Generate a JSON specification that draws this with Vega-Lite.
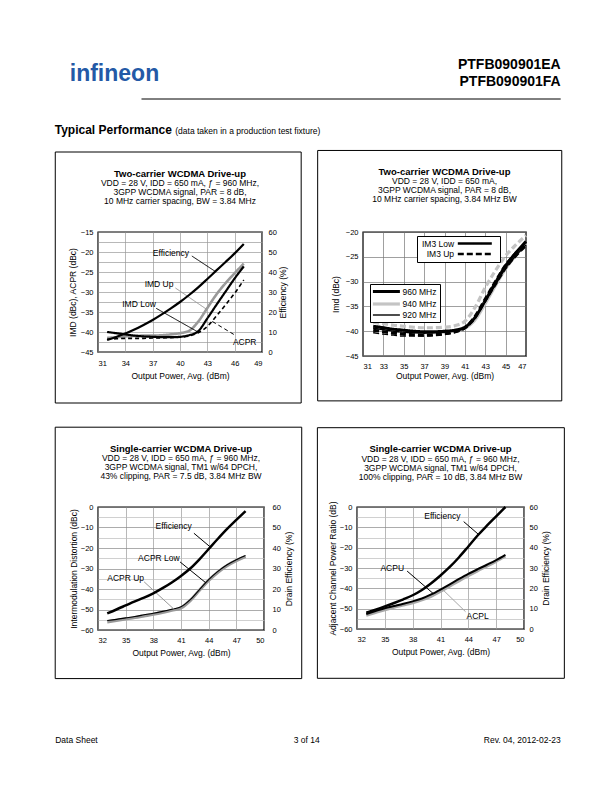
{
"$schema":"https://vega.github.io/schema/vega-lite/v6.json",
"background":"white",
"padding":{"left":54,"top":40,"right":5,"bottom":5},
"config":{
 "font":"Liberation Sans",
 "view":{"stroke":"black","strokeWidth":1.4},
 "axis":{"labelFontSize":7.5,"labelColor":"black","titleFontSize":8.5,"titleFontWeight":"normal","titleColor":"black","domain":false,"ticks":false,"labelPadding":5,"gridColor":"#9a9a9a","gridWidth":0.7,"gridOpacity":1},
 "legend":{"labelFont":"Liberation Sans","labelColor":"black"},
 "title":{"fontSize":9.5,"fontWeight":"bold","color":"black","subtitleFontSize":8.5,"subtitleColor":"black","subtitlePadding":1,"subtitleLineHeight":9,"anchor":"middle"}
},
"datasets":{
"c1":[
{"s":"IMD Up","x":32,"v":-41.5},{"s":"IMD Up","x":33,"v":-41.3},{"s":"IMD Up","x":34,"v":-41.1},{"s":"IMD Up","x":35,"v":-41.0},{"s":"IMD Up","x":36,"v":-40.9},{"s":"IMD Up","x":37,"v":-40.9},{"s":"IMD Up","x":38,"v":-40.8},{"s":"IMD Up","x":39,"v":-40.6},{"s":"IMD Up","x":40,"v":-40.3},{"s":"IMD Up","x":41,"v":-39.7},{"s":"IMD Up","x":42,"v":-37.4},{"s":"IMD Up","x":43,"v":-34.0},{"s":"IMD Up","x":44,"v":-30.6},{"s":"IMD Up","x":45,"v":-27.8},{"s":"IMD Up","x":46,"v":-25.3},{"s":"IMD Up","x":47,"v":-22.9},
{"s":"ACPR","x":32,"v":-41.8},{"s":"ACPR","x":33,"v":-41.7},{"s":"ACPR","x":34,"v":-41.6},{"s":"ACPR","x":35,"v":-41.6},{"s":"ACPR","x":36,"v":-41.6},{"s":"ACPR","x":37,"v":-41.5},{"s":"ACPR","x":38,"v":-41.5},{"s":"ACPR","x":39,"v":-41.4},{"s":"ACPR","x":40,"v":-41.3},{"s":"ACPR","x":41,"v":-41.0},{"s":"ACPR","x":42,"v":-40.2},{"s":"ACPR","x":43,"v":-38.6},{"s":"ACPR","x":44,"v":-36.0},{"s":"ACPR","x":45,"v":-33.2},{"s":"ACPR","x":46,"v":-30.3},{"s":"ACPR","x":47,"v":-27.0},
{"s":"IMD Low","x":32,"v":-40.0},{"s":"IMD Low","x":33,"v":-40.3},{"s":"IMD Low","x":34,"v":-40.6},{"s":"IMD Low","x":35,"v":-40.9},{"s":"IMD Low","x":36,"v":-41.1},{"s":"IMD Low","x":37,"v":-41.2},{"s":"IMD Low","x":38,"v":-41.3},{"s":"IMD Low","x":39,"v":-41.3},{"s":"IMD Low","x":40,"v":-41.2},{"s":"IMD Low","x":41,"v":-40.8},{"s":"IMD Low","x":42,"v":-39.8},{"s":"IMD Low","x":43,"v":-36.6},{"s":"IMD Low","x":44,"v":-33.2},{"s":"IMD Low","x":45,"v":-29.9},{"s":"IMD Low","x":46,"v":-26.6},{"s":"IMD Low","x":47,"v":-23.6},
{"s":"Efficiency","x":32,"v":6.0},{"s":"Efficiency","x":33,"v":7.5},{"s":"Efficiency","x":34,"v":9.2},{"s":"Efficiency","x":35,"v":11.2},{"s":"Efficiency","x":36,"v":13.5},{"s":"Efficiency","x":37,"v":16.0},{"s":"Efficiency","x":38,"v":18.8},{"s":"Efficiency","x":39,"v":21.8},{"s":"Efficiency","x":40,"v":25.0},{"s":"Efficiency","x":41,"v":28.5},{"s":"Efficiency","x":42,"v":32.3},{"s":"Efficiency","x":43,"v":36.5},{"s":"Efficiency","x":44,"v":40.8},{"s":"Efficiency","x":45,"v":45.0},{"s":"Efficiency","x":46,"v":49.3},{"s":"Efficiency","x":47,"v":54.0}
],
"c1a":[
{"label":"Efficiency","s":"Efficiency","tx":39.0,"ty":-20.2,"x1":41.3,"y1":-21.0,"x2":43.9,"y2":-24.9},
{"label":"IMD Up","s":"IMD Up","tx":37.7,"ty":-27.9,"x1":39.5,"y1":-29.0,"x2":42.9,"y2":-34.3},
{"label":"IMD Low","s":"IMD Low","tx":35.5,"ty":-33.1,"x1":37.4,"y1":-34.1,"x2":41.9,"y2":-39.9},
{"label":"ACPR","s":"ACPR","tx":47.1,"ty":-42.6,"x1":45.9,"y1":-40.6,"x2":43.5,"y2":-37.3}
],
"c2":[
{"f":"940 MHz","t":"IM3 Low","x":32,"v":-39.3},{"f":"940 MHz","t":"IM3 Low","x":33,"v":-39.6},{"f":"940 MHz","t":"IM3 Low","x":34,"v":-39.9},{"f":"940 MHz","t":"IM3 Low","x":35,"v":-40.1},{"f":"940 MHz","t":"IM3 Low","x":36,"v":-40.2},{"f":"940 MHz","t":"IM3 Low","x":37,"v":-40.3},{"f":"940 MHz","t":"IM3 Low","x":38,"v":-40.3},{"f":"940 MHz","t":"IM3 Low","x":39,"v":-40.2},{"f":"940 MHz","t":"IM3 Low","x":40,"v":-39.9},{"f":"940 MHz","t":"IM3 Low","x":41,"v":-39.4},{"f":"940 MHz","t":"IM3 Low","x":42,"v":-37.7},{"f":"940 MHz","t":"IM3 Low","x":43,"v":-34.4},{"f":"940 MHz","t":"IM3 Low","x":44,"v":-30.8},{"f":"940 MHz","t":"IM3 Low","x":45,"v":-27.4},{"f":"940 MHz","t":"IM3 Low","x":46,"v":-24.7},{"f":"940 MHz","t":"IM3 Low","x":47,"v":-22.3},
{"f":"940 MHz","t":"IM3 Up","x":32,"v":-38.2},{"f":"940 MHz","t":"IM3 Up","x":33,"v":-38.5},{"f":"940 MHz","t":"IM3 Up","x":34,"v":-38.8},{"f":"940 MHz","t":"IM3 Up","x":35,"v":-39.0},{"f":"940 MHz","t":"IM3 Up","x":36,"v":-39.2},{"f":"940 MHz","t":"IM3 Up","x":37,"v":-39.3},{"f":"940 MHz","t":"IM3 Up","x":38,"v":-39.3},{"f":"940 MHz","t":"IM3 Up","x":39,"v":-39.2},{"f":"940 MHz","t":"IM3 Up","x":40,"v":-38.9},{"f":"940 MHz","t":"IM3 Up","x":41,"v":-38.0},{"f":"940 MHz","t":"IM3 Up","x":42,"v":-35.2},{"f":"940 MHz","t":"IM3 Up","x":43,"v":-31.2},{"f":"940 MHz","t":"IM3 Up","x":44,"v":-27.8},{"f":"940 MHz","t":"IM3 Up","x":45,"v":-24.8},{"f":"940 MHz","t":"IM3 Up","x":46,"v":-22.6},{"f":"940 MHz","t":"IM3 Up","x":47,"v":-20.7},
{"f":"960 MHz","t":"IM3 Low","x":32,"v":-39.0},{"f":"960 MHz","t":"IM3 Low","x":33,"v":-39.3},{"f":"960 MHz","t":"IM3 Low","x":34,"v":-39.6},{"f":"960 MHz","t":"IM3 Low","x":35,"v":-39.8},{"f":"960 MHz","t":"IM3 Low","x":36,"v":-40.0},{"f":"960 MHz","t":"IM3 Low","x":37,"v":-40.1},{"f":"960 MHz","t":"IM3 Low","x":38,"v":-40.1},{"f":"960 MHz","t":"IM3 Low","x":39,"v":-40.0},{"f":"960 MHz","t":"IM3 Low","x":40,"v":-39.8},{"f":"960 MHz","t":"IM3 Low","x":41,"v":-39.2},{"f":"960 MHz","t":"IM3 Low","x":42,"v":-37.2},{"f":"960 MHz","t":"IM3 Low","x":43,"v":-33.8},{"f":"960 MHz","t":"IM3 Low","x":44,"v":-30.2},{"f":"960 MHz","t":"IM3 Low","x":45,"v":-26.8},{"f":"960 MHz","t":"IM3 Low","x":46,"v":-24.2},{"f":"960 MHz","t":"IM3 Low","x":47,"v":-21.9},
{"f":"960 MHz","t":"IM3 Up","x":32,"v":-39.8},{"f":"960 MHz","t":"IM3 Up","x":33,"v":-40.1},{"f":"960 MHz","t":"IM3 Up","x":34,"v":-40.4},{"f":"960 MHz","t":"IM3 Up","x":35,"v":-40.6},{"f":"960 MHz","t":"IM3 Up","x":36,"v":-40.7},{"f":"960 MHz","t":"IM3 Up","x":37,"v":-40.8},{"f":"960 MHz","t":"IM3 Up","x":38,"v":-40.7},{"f":"960 MHz","t":"IM3 Up","x":39,"v":-40.5},{"f":"960 MHz","t":"IM3 Up","x":40,"v":-40.1},{"f":"960 MHz","t":"IM3 Up","x":41,"v":-39.3},{"f":"960 MHz","t":"IM3 Up","x":42,"v":-37.0},{"f":"960 MHz","t":"IM3 Up","x":43,"v":-33.5},{"f":"960 MHz","t":"IM3 Up","x":44,"v":-30.0},{"f":"960 MHz","t":"IM3 Up","x":45,"v":-26.7},{"f":"960 MHz","t":"IM3 Up","x":46,"v":-24.3},{"f":"960 MHz","t":"IM3 Up","x":47,"v":-22.3},
{"f":"920 MHz","t":"IM3 Low","x":32,"v":-39.4},{"f":"920 MHz","t":"IM3 Low","x":33,"v":-39.7},{"f":"920 MHz","t":"IM3 Low","x":34,"v":-40.0},{"f":"920 MHz","t":"IM3 Low","x":35,"v":-40.2},{"f":"920 MHz","t":"IM3 Low","x":36,"v":-40.3},{"f":"920 MHz","t":"IM3 Low","x":37,"v":-40.4},{"f":"920 MHz","t":"IM3 Low","x":38,"v":-40.3},{"f":"920 MHz","t":"IM3 Low","x":39,"v":-40.2},{"f":"920 MHz","t":"IM3 Low","x":40,"v":-39.9},{"f":"920 MHz","t":"IM3 Low","x":41,"v":-39.3},{"f":"920 MHz","t":"IM3 Low","x":42,"v":-37.3},{"f":"920 MHz","t":"IM3 Low","x":43,"v":-34.0},{"f":"920 MHz","t":"IM3 Low","x":44,"v":-30.6},{"f":"920 MHz","t":"IM3 Low","x":45,"v":-27.3},{"f":"920 MHz","t":"IM3 Low","x":46,"v":-24.8},{"f":"920 MHz","t":"IM3 Low","x":47,"v":-22.6},
{"f":"920 MHz","t":"IM3 Up","x":32,"v":-40.3},{"f":"920 MHz","t":"IM3 Up","x":33,"v":-40.6},{"f":"920 MHz","t":"IM3 Up","x":34,"v":-40.8},{"f":"920 MHz","t":"IM3 Up","x":35,"v":-41.0},{"f":"920 MHz","t":"IM3 Up","x":36,"v":-41.0},{"f":"920 MHz","t":"IM3 Up","x":37,"v":-41.0},{"f":"920 MHz","t":"IM3 Up","x":38,"v":-40.9},{"f":"920 MHz","t":"IM3 Up","x":39,"v":-40.7},{"f":"920 MHz","t":"IM3 Up","x":40,"v":-40.3},{"f":"920 MHz","t":"IM3 Up","x":41,"v":-39.5},{"f":"920 MHz","t":"IM3 Up","x":42,"v":-37.5},{"f":"920 MHz","t":"IM3 Up","x":43,"v":-34.1},{"f":"920 MHz","t":"IM3 Up","x":44,"v":-30.8},{"f":"920 MHz","t":"IM3 Up","x":45,"v":-27.5},{"f":"920 MHz","t":"IM3 Up","x":46,"v":-25.0},{"f":"920 MHz","t":"IM3 Up","x":47,"v":-22.9}
],
"c3":[
{"s":"ACPR Up","x":33,"v":-56.0},{"s":"ACPR Up","x":34,"v":-55.3},{"s":"ACPR Up","x":35,"v":-54.6},{"s":"ACPR Up","x":36,"v":-53.9},{"s":"ACPR Up","x":37,"v":-53.1},{"s":"ACPR Up","x":38,"v":-52.3},{"s":"ACPR Up","x":39,"v":-51.4},{"s":"ACPR Up","x":40,"v":-50.4},{"s":"ACPR Up","x":41,"v":-49.2},{"s":"ACPR Up","x":42,"v":-45.6},{"s":"ACPR Up","x":43,"v":-40.6},{"s":"ACPR Up","x":44,"v":-35.8},{"s":"ACPR Up","x":45,"v":-31.8},{"s":"ACPR Up","x":46,"v":-28.6},{"s":"ACPR Up","x":47,"v":-26.1},{"s":"ACPR Up","x":48,"v":-24.1},
{"s":"ACPR Low","x":33,"v":-55.4},{"s":"ACPR Low","x":34,"v":-54.8},{"s":"ACPR Low","x":35,"v":-54.1},{"s":"ACPR Low","x":36,"v":-53.4},{"s":"ACPR Low","x":37,"v":-52.6},{"s":"ACPR Low","x":38,"v":-51.8},{"s":"ACPR Low","x":39,"v":-50.9},{"s":"ACPR Low","x":40,"v":-49.9},{"s":"ACPR Low","x":41,"v":-48.7},{"s":"ACPR Low","x":42,"v":-45.2},{"s":"ACPR Low","x":43,"v":-40.3},{"s":"ACPR Low","x":44,"v":-35.4},{"s":"ACPR Low","x":45,"v":-31.4},{"s":"ACPR Low","x":46,"v":-28.2},{"s":"ACPR Low","x":47,"v":-25.7},{"s":"ACPR Low","x":48,"v":-23.7},
{"s":"Efficiency","x":33,"v":8.1},{"s":"Efficiency","x":34,"v":10.0},{"s":"Efficiency","x":35,"v":12.0},{"s":"Efficiency","x":36,"v":14.0},{"s":"Efficiency","x":37,"v":15.8},{"s":"Efficiency","x":38,"v":17.9},{"s":"Efficiency","x":39,"v":20.4},{"s":"Efficiency","x":40,"v":23.2},{"s":"Efficiency","x":41,"v":26.4},{"s":"Efficiency","x":42,"v":30.0},{"s":"Efficiency","x":43,"v":34.5},{"s":"Efficiency","x":44,"v":39.5},{"s":"Efficiency","x":45,"v":44.5},{"s":"Efficiency","x":46,"v":49.3},{"s":"Efficiency","x":47,"v":53.7},{"s":"Efficiency","x":48,"v":58.0}
],
"c3a":[
{"label":"Efficiency","s":"Efficiency","tx":40.2,"ty":-9.2,"x1":42.4,"y1":-12.8,"x2":44.2,"y2":-19.6},
{"label":"ACPR Low","s":"ACPR Low","tx":38.6,"ty":-25.1,"x1":40.9,"y1":-26.8,"x2":43.7,"y2":-37.0},
{"label":"ACPR Up","s":"ACPR Up","tx":35.0,"ty":-34.8,"x1":37.0,"y1":-36.5,"x2":40.3,"y2":-50.1}
],
"c4":[
{"s":"ACPL","x":33,"v":-53.4},{"s":"ACPL","x":34,"v":-52.0},{"s":"ACPL","x":35,"v":-50.6},{"s":"ACPL","x":36,"v":-49.4},{"s":"ACPL","x":37,"v":-48.3},{"s":"ACPL","x":38,"v":-47.2},{"s":"ACPL","x":39,"v":-45.8},{"s":"ACPL","x":40,"v":-44.0},{"s":"ACPL","x":41,"v":-41.6},{"s":"ACPL","x":42,"v":-39.0},{"s":"ACPL","x":43,"v":-36.4},{"s":"ACPL","x":44,"v":-33.9},{"s":"ACPL","x":45,"v":-31.5},{"s":"ACPL","x":46,"v":-29.2},{"s":"ACPL","x":47,"v":-26.8},{"s":"ACPL","x":48,"v":-24.3},
{"s":"ACPU","x":33,"v":-52.6},{"s":"ACPU","x":34,"v":-51.2},{"s":"ACPU","x":35,"v":-49.8},{"s":"ACPU","x":36,"v":-48.7},{"s":"ACPU","x":37,"v":-47.6},{"s":"ACPU","x":38,"v":-46.4},{"s":"ACPU","x":39,"v":-45.0},{"s":"ACPU","x":40,"v":-43.0},{"s":"ACPU","x":41,"v":-40.6},{"s":"ACPU","x":42,"v":-38.0},{"s":"ACPU","x":43,"v":-35.4},{"s":"ACPU","x":44,"v":-32.9},{"s":"ACPU","x":45,"v":-30.6},{"s":"ACPU","x":46,"v":-28.4},{"s":"ACPU","x":47,"v":-26.1},{"s":"ACPU","x":48,"v":-23.5},
{"s":"Efficiency","x":33,"v":8.0},{"s":"Efficiency","x":34,"v":9.5},{"s":"Efficiency","x":35,"v":11.1},{"s":"Efficiency","x":36,"v":12.8},{"s":"Efficiency","x":37,"v":14.6},{"s":"Efficiency","x":38,"v":16.6},{"s":"Efficiency","x":39,"v":19.2},{"s":"Efficiency","x":40,"v":22.5},{"s":"Efficiency","x":41,"v":26.3},{"s":"Efficiency","x":42,"v":30.5},{"s":"Efficiency","x":43,"v":35.3},{"s":"Efficiency","x":44,"v":40.6},{"s":"Efficiency","x":45,"v":46.0},{"s":"Efficiency","x":46,"v":50.8},{"s":"Efficiency","x":47,"v":55.4},{"s":"Efficiency","x":48,"v":60.0}
],
"c4a":[
{"label":"Efficiency","s":"Efficiency","tx":41.2,"ty":-4.6,"x1":43.5,"y1":-7.2,"x2":45.1,"y2":-13.5},
{"label":"ACPU","s":"ACPU","tx":35.8,"ty":-30.0,"x1":37.4,"y1":-31.5,"x2":40.2,"y2":-42.5},
{"label":"ACPL","s":"ACPL","tx":45.0,"ty":-53.8,"x1":43.7,"y1":-51.5,"x2":41.3,"y2":-40.9}
]
},
"spacing":9,
"resolve":{"scale":{"stroke":"independent","strokeDash":"independent","strokeWidth":"independent"}},
"vconcat":[
{
 "width":462.7,"height":100,
 "view":{"stroke":null},
 "layer":[
  {"data":{"values":[{}]},"mark":{"type":"text","text":"infineon","fontSize":23,"fontWeight":"bold","color":"#2359a6","align":"left","baseline":"middle"},"encoding":{"x":{"datum":-0.061,"type":"quantitative","scale":{"domain":[0,1]},"axis":null},"y":{"datum":0.66,"type":"quantitative","scale":{"domain":[0,1]},"axis":null}}},
  {"data":{"values":[{}]},"mark":{"type":"text","text":"PTFB090901EA","fontSize":14,"fontWeight":"bold","color":"black","align":"right","baseline":"middle"},"encoding":{"x":{"datum":1,"type":"quantitative","scale":{"domain":[0,1]},"axis":null},"y":{"datum":0.75,"type":"quantitative","scale":{"domain":[0,1]},"axis":null}}},
  {"data":{"values":[{}]},"mark":{"type":"text","text":"PTFB090901FA","fontSize":14,"fontWeight":"bold","color":"black","align":"right","baseline":"middle"},"encoding":{"x":{"datum":1,"type":"quantitative","scale":{"domain":[0,1]},"axis":null},"y":{"datum":0.58,"type":"quantitative","scale":{"domain":[0,1]},"axis":null}}},
  {"data":{"values":[{}]},"mark":{"type":"rule","color":"black","strokeWidth":1},"encoding":{"x":{"datum":0.094,"type":"quantitative","scale":{"domain":[0,1]},"axis":null},"x2":{"datum":1},"y":{"datum":0.41,"type":"quantitative","scale":{"domain":[0,1]},"axis":null}}},
  {"data":{"values":[{}]},"mark":{"type":"text","text":"Typical Performance","fontSize":12,"fontWeight":"bold","color":"black","align":"left","baseline":"alphabetic"},"encoding":{"x":{"datum":-0.0936,"type":"quantitative","scale":{"domain":[0,1]},"axis":null},"y":{"datum":0.06,"type":"quantitative","scale":{"domain":[0,1]},"axis":null}}},
  {"data":{"values":[{}]},"mark":{"type":"text","text":"(data taken in a production test fixture)","fontSize":8.5,"color":"black","align":"left","baseline":"alphabetic"},"encoding":{"x":{"datum":0.167,"type":"quantitative","scale":{"domain":[0,1]},"axis":null},"y":{"datum":0.06,"type":"quantitative","scale":{"domain":[0,1]},"axis":null}}}
 ]
},
{"spacing":20,"resolve":{"scale":{"stroke":"independent","strokeDash":"independent","strokeWidth":"independent"}},"vconcat":[
 {"spacing":13,"resolve":{"scale":{"stroke":"independent","strokeDash":"independent","strokeWidth":"independent"}},"hconcat":[
  {
   "width":164,"height":120,
   "title":{"text":"Two-carrier WCDMA Drive-up","subtitle":["VDD = 28 V, IDD = 650 mA, ƒ = 960 MHz,","3GPP WCDMA signal, PAR = 8 dB,","10 MHz carrier spacing, BW = 3.84 MHz"],"offset":-54},
   "layer":[
    {"layer":[
     {"data":{"values":[{}]},"mark":{"type":"rect","fill":"transparent","stroke":"black","strokeWidth":1,"clip":false},"encoding":{
       "x":{"datum":26.31,"type":"quantitative","scale":{"domain":[31,49],"nice":false,"zero":false},"axis":{"title":"Output Power, Avg. (dBm)","values":[31,34,37,40,43,46,49],"grid":true,"labelPadding":7,"titlePadding":5}},"x2":{"datum":53.3},
       "y":{"datum":5.0,"type":"quantitative","scale":{"domain":[-45,-15],"nice":false,"zero":false},"axis":{"title":"IMD (dBc), ACPR (dBc)","values":[-45,-42.5,-40,-37.5,-35,-32.5,-30,-27.5,-25,-22.5,-20,-17.5,-15],"grid":true,"labelExpr":"datum.value % 5 === 0 ? datum.label : ''","titlePadding":3}},"y2":{"datum":-57.75}}},
     {"data":{"name":"c1"},"transform":[{"filter":"datum.s !== 'Efficiency'"}],"mark":{"type":"line","interpolate":"monotone"},
      "encoding":{
       "x":{"field":"x","type":"quantitative","scale":{"domain":[31,49],"nice":false,"zero":false},"axis":{"title":"Output Power, Avg. (dBm)","values":[31,34,37,40,43,46,49],"grid":true,"labelPadding":7,"titlePadding":5}},
       "y":{"field":"v","type":"quantitative","scale":{"domain":[-45,-15],"nice":false,"zero":false},"axis":{"title":"IMD (dBc), ACPR (dBc)","values":[-45,-42.5,-40,-37.5,-35,-32.5,-30,-27.5,-25,-22.5,-20,-17.5,-15],"grid":true,"labelExpr":"datum.value % 5 === 0 ? datum.label : ''","titlePadding":3}},
       "stroke":{"field":"s","type":"nominal","scale":{"domain":["IMD Up","ACPR","IMD Low","Efficiency"],"range":["#999999","black","black","black"]},"legend":null},
       "strokeDash":{"field":"s","type":"nominal","scale":{"domain":["IMD Up","ACPR","IMD Low","Efficiency"],"range":[[1,0],[4,3],[1,0],[1,0]]},"legend":null},
       "strokeWidth":{"field":"s","type":"nominal","scale":{"type":"ordinal","domain":["IMD Up","ACPR","IMD Low","Efficiency"],"range":[2.6,1.6,2.2,2.2]},"legend":null}
      }},
     {"data":{"name":"c1a"},"mark":{"type":"rule","strokeWidth":1},
      "encoding":{
       "x":{"field":"x1","type":"quantitative","scale":{"domain":[31,49],"nice":false,"zero":false},"axis":{"title":"Output Power, Avg. (dBm)","values":[31,34,37,40,43,46,49],"grid":true,"labelPadding":7,"titlePadding":5}},
       "y":{"field":"y1","type":"quantitative","scale":{"domain":[-45,-15],"nice":false,"zero":false},"axis":{"title":"IMD (dBc), ACPR (dBc)","values":[-45,-42.5,-40,-37.5,-35,-32.5,-30,-27.5,-25,-22.5,-20,-17.5,-15],"grid":true,"labelExpr":"datum.value % 5 === 0 ? datum.label : ''","titlePadding":3}},
       "x2":{"field":"x2"},"y2":{"field":"y2"},
       "stroke":{"field":"s","type":"nominal","scale":{"domain":["IMD Up","ACPR","IMD Low","Efficiency"],"range":["#999999","black","black","black"]},"legend":null},
       "strokeDash":{"field":"s","type":"nominal","scale":{"domain":["IMD Up","ACPR","IMD Low","Efficiency"],"range":[[1,0],[4,3],[1,0],[1,0]]},"legend":null}
      }},
     {"data":{"name":"c1a"},"mark":{"type":"text","fontSize":8.5,"color":"black"},
      "encoding":{
       "x":{"field":"tx","type":"quantitative","scale":{"domain":[31,49],"nice":false,"zero":false},"axis":{"title":"Output Power, Avg. (dBm)","values":[31,34,37,40,43,46,49],"grid":true,"labelPadding":7,"titlePadding":5}},
       "y":{"field":"ty","type":"quantitative","scale":{"domain":[-45,-15],"nice":false,"zero":false},"axis":{"title":"IMD (dBc), ACPR (dBc)","values":[-45,-42.5,-40,-37.5,-35,-32.5,-30,-27.5,-25,-22.5,-20,-17.5,-15],"grid":true,"labelExpr":"datum.value % 5 === 0 ? datum.label : ''","titlePadding":3}},
       "text":{"field":"label"}
      }}
    ]},
    {"data":{"name":"c1"},"transform":[{"filter":"datum.s === 'Efficiency'"}],"mark":{"type":"line","interpolate":"monotone","color":"black","strokeWidth":2.2},
     "encoding":{
      "x":{"field":"x","type":"quantitative","scale":{"domain":[31,49],"nice":false,"zero":false},"axis":{"title":"Output Power, Avg. (dBm)","values":[31,34,37,40,43,46,49],"grid":true,"labelPadding":7,"titlePadding":5}},
      "y":{"field":"v","type":"quantitative","scale":{"domain":[0,60],"nice":false,"zero":false},"axis":{"orient":"right","title":"Efficiency (%)","values":[0,10,20,30,40,50,60],"grid":false,"titleAngle":270,"titleBaseline":"top","labelPadding":6,"titlePadding":2}}
     }}
   ],
   "resolve":{"scale":{"y":"independent"}}
  },
  {
   "width":163,"height":124,
   "title":{"text":"Two-carrier WCDMA Drive-up","subtitle":["VDD = 28 V, IDD = 650 mA,","3GPP WCDMA signal, PAR = 8 dB,","10 MHz carrier spacing, 3.84 MHz BW"],"offset":-54},
   "layer":[
    {"data":{"values":[{}]},"mark":{"type":"rect","fill":"transparent","stroke":"black","strokeWidth":1,"clip":false},"encoding":{
      "x":{"datum":26.55,"type":"quantitative","scale":{"domain":[31,47],"nice":false,"zero":false},"axis":{"title":"Output Power, Avg. (dBm)","values":[31,33,35,37,39,41,43,45,47],"grid":true,"labelPadding":6,"titlePadding":2,"gridColor":"#777"}},"x2":{"datum":50.51},
      "y":{"datum":-3.56,"type":"quantitative","scale":{"domain":[-45,-20],"nice":false,"zero":false},"axis":{"title":"Imd (dBc)","values":[-45,-40,-35,-30,-25,-20],"grid":true,"titlePadding":5,"gridColor":"#777"}},"y2":{"datum":-54.05}}},
    {"data":{"name":"c2"},"mark":{"type":"line","interpolate":"monotone"},
     "encoding":{
      "x":{"field":"x","type":"quantitative","scale":{"domain":[31,47],"nice":false,"zero":false},"axis":{"title":"Output Power, Avg. (dBm)","values":[31,33,35,37,39,41,43,45,47],"grid":true,"labelPadding":6,"titlePadding":2,"gridColor":"#777"}},
      "y":{"field":"v","type":"quantitative","scale":{"domain":[-45,-20],"nice":false,"zero":false},"axis":{"title":"Imd (dBc)","values":[-45,-40,-35,-30,-25,-20],"grid":true,"titlePadding":5,"gridColor":"#777"}},
      "stroke":{"field":"f","type":"nominal","scale":{"domain":["960 MHz","940 MHz","920 MHz"],"range":["black","#c4c4c4","black"]},"legend":{"orient":"none","legendX":7,"legendY":52,"title":null,"strokeColor":"black","fillColor":"white","padding":2.5,"labelFontSize":8.5,"symbolType":"M-3.857,0H3.857","symbolSize":49,"symbolOffset":8.4,"labelOffset":10.6,"rowPadding":0,"cornerRadius":0}},
      "strokeWidth":{"field":"f","type":"nominal","scale":{"type":"ordinal","domain":["960 MHz","940 MHz","920 MHz"],"range":[3,3.2,1.4]},"legend":{"orient":"none","legendX":7,"legendY":52,"title":null,"strokeColor":"black","fillColor":"white","padding":2.5,"labelFontSize":8.5,"symbolType":"M-3.857,0H3.857","symbolSize":49,"symbolOffset":8.4,"labelOffset":10.6,"rowPadding":0,"cornerRadius":0}},
      "strokeDash":{"field":"t","type":"nominal","scale":{"domain":["IM3 Low","IM3 Up"],"range":[[1,0],[6,3]]},"legend":{"orient":"none","legendX":54,"legendY":4,"title":null,"strokeColor":"black","fillColor":"white","padding":2.5,"labelFontSize":8.5,"symbolType":"M-4.857,0H4.857","symbolSize":49,"symbolStrokeColor":"black","symbolStrokeWidth":2.4,"symbolOffset":50.3,"labelAlign":"right","labelOffset":-25.7,"rowPadding":0.5,"cornerRadius":0}}
     }}
   ]
  }
 ]},
 {"spacing":13,"resolve":{"scale":{"stroke":"independent","strokeDash":"independent","strokeWidth":"independent"}},"hconcat":[
  {
   "width":166,"height":123,
   "title":{"text":"Single-carrier WCDMA Drive-up","subtitle":["VDD = 28 V, IDD = 650 mA, ƒ = 960 MHz,","3GPP WCDMA signal, TM1 w/64 DPCH,","43% clipping, PAR = 7.5 dB, 3.84 MHz BW"],"offset":-54},
   "layer":[
    {"layer":[
     {"data":{"values":[{}]},"mark":{"type":"rect","fill":"transparent","stroke":"black","strokeWidth":1,"clip":false},"encoding":{
       "x":{"datum":27.36,"type":"quantitative","scale":{"domain":[32,50],"nice":false,"zero":false},"axis":{"title":"Output Power, Avg. (dBm)","values":[32,35,38,41,44,47,50],"grid":true,"labelPadding":6,"titlePadding":5}},"x2":{"datum":54.09},
       "y":{"datum":38.93,"type":"quantitative","scale":{"domain":[-60,0],"nice":false,"zero":false},"axis":{"title":"Intermodulation Distortion (dBc)","values":[-60,-55,-50,-45,-40,-35,-30,-25,-20,-15,-10,-5,0],"grid":true,"labelExpr":"datum.value % 10 === 0 ? datum.label : ''","gridColor":{"condition":{"test":"datum.value % 10 === 0","value":"#888888"},"value":"#bbbbbb"},"titlePadding":2}},"y2":{"datum":-83.7}}},
     {"data":{"name":"c3"},"transform":[{"filter":"datum.s !== 'Efficiency'"}],"mark":{"type":"line","interpolate":"monotone"},
      "encoding":{
       "x":{"field":"x","type":"quantitative","scale":{"domain":[32,50],"nice":false,"zero":false},"axis":{"title":"Output Power, Avg. (dBm)","values":[32,35,38,41,44,47,50],"grid":true,"labelPadding":6,"titlePadding":5}},
       "y":{"field":"v","type":"quantitative","scale":{"domain":[-60,0],"nice":false,"zero":false},"axis":{"title":"Intermodulation Distortion (dBc)","values":[-60,-55,-50,-45,-40,-35,-30,-25,-20,-15,-10,-5,0],"grid":true,"labelExpr":"datum.value % 10 === 0 ? datum.label : ''","gridColor":{"condition":{"test":"datum.value % 10 === 0","value":"#888888"},"value":"#bbbbbb"},"titlePadding":2}},
       "stroke":{"field":"s","type":"nominal","scale":{"domain":["ACPR Up","ACPR Low","Efficiency"],"range":["#999999","black","black"]},"legend":null},
       "strokeWidth":{"field":"s","type":"nominal","scale":{"type":"ordinal","domain":["ACPR Up","ACPR Low","Efficiency"],"range":[3.2,1.1,2.5]},"legend":null}
      }},
     {"data":{"name":"c3a"},"mark":{"type":"rule","strokeWidth":1},
      "encoding":{
       "x":{"field":"x1","type":"quantitative","scale":{"domain":[32,50],"nice":false,"zero":false},"axis":{"title":"Output Power, Avg. (dBm)","values":[32,35,38,41,44,47,50],"grid":true,"labelPadding":6,"titlePadding":5}},
       "y":{"field":"y1","type":"quantitative","scale":{"domain":[-60,0],"nice":false,"zero":false},"axis":{"title":"Intermodulation Distortion (dBc)","values":[-60,-55,-50,-45,-40,-35,-30,-25,-20,-15,-10,-5,0],"grid":true,"labelExpr":"datum.value % 10 === 0 ? datum.label : ''","gridColor":{"condition":{"test":"datum.value % 10 === 0","value":"#888888"},"value":"#bbbbbb"},"titlePadding":2}},
       "x2":{"field":"x2"},"y2":{"field":"y2"},
       "stroke":{"field":"s","type":"nominal","scale":{"domain":["ACPR Up","ACPR Low","Efficiency"],"range":["#999999","black","black"]},"legend":null}
      }},
     {"data":{"name":"c3a"},"mark":{"type":"text","fontSize":8.5,"color":"black"},
      "encoding":{
       "x":{"field":"tx","type":"quantitative","scale":{"domain":[32,50],"nice":false,"zero":false},"axis":{"title":"Output Power, Avg. (dBm)","values":[32,35,38,41,44,47,50],"grid":true,"labelPadding":6,"titlePadding":5}},
       "y":{"field":"ty","type":"quantitative","scale":{"domain":[-60,0],"nice":false,"zero":false},"axis":{"title":"Intermodulation Distortion (dBc)","values":[-60,-55,-50,-45,-40,-35,-30,-25,-20,-15,-10,-5,0],"grid":true,"labelExpr":"datum.value % 10 === 0 ? datum.label : ''","gridColor":{"condition":{"test":"datum.value % 10 === 0","value":"#888888"},"value":"#bbbbbb"},"titlePadding":2}},
       "text":{"field":"label"}
      }}
    ]},
    {"data":{"name":"c3"},"transform":[{"filter":"datum.s === 'Efficiency'"}],"mark":{"type":"line","interpolate":"monotone","color":"black","strokeWidth":2.5},
     "encoding":{
      "x":{"field":"x","type":"quantitative","scale":{"domain":[32,50],"nice":false,"zero":false},"axis":{"title":"Output Power, Avg. (dBm)","values":[32,35,38,41,44,47,50],"grid":true,"labelPadding":6,"titlePadding":5}},
      "y":{"field":"v","type":"quantitative","scale":{"domain":[0,60],"nice":false,"zero":false},"axis":{"orient":"right","title":"Drain Efficiency (%)","values":[0,10,20,30,40,50,60],"grid":false,"titleAngle":270,"titleBaseline":"top","labelPadding":8}}
     }}
   ],
   "resolve":{"scale":{"y":"independent"}}
  },
  {
   "width":167,"height":122,
   "title":{"text":"Single-carrier WCDMA Drive-up","subtitle":["VDD = 28 V, IDD = 650 mA, ƒ = 960 MHz,","3GPP WCDMA signal, TM1 w/64 DPCH,","100% clipping, PAR = 10 dB, 3.84 MHz BW"],"offset":-54},
   "layer":[
    {"layer":[
     {"data":{"values":[{}]},"mark":{"type":"rect","fill":"transparent","stroke":"black","strokeWidth":1,"clip":false},"encoding":{
       "x":{"datum":27.73,"type":"quantitative","scale":{"domain":[32,50],"nice":false,"zero":false},"axis":{"title":"Output Power, Avg. (dBm)","values":[32,35,38,41,44,47,50],"grid":true,"labelPadding":6,"titlePadding":5}},"x2":{"datum":54.35},
       "y":{"datum":39.0,"type":"quantitative","scale":{"domain":[-60,0],"nice":false,"zero":false},"axis":{"title":"Adjacent Channel Power Ratio (dB)","values":[-60,-55,-50,-45,-40,-35,-30,-25,-20,-15,-10,-5,0],"grid":true,"labelExpr":"datum.value % 10 === 0 ? datum.label : ''","gridColor":{"condition":{"test":"datum.value % 10 === 0","value":"#888888"},"value":"#bbbbbb"},"titlePadding":2}},"y2":{"datum":-84.25}}},
     {"data":{"name":"c4"},"transform":[{"filter":"datum.s !== 'Efficiency'"}],"mark":{"type":"line","interpolate":"monotone"},
      "encoding":{
       "x":{"field":"x","type":"quantitative","scale":{"domain":[32,50],"nice":false,"zero":false},"axis":{"title":"Output Power, Avg. (dBm)","values":[32,35,38,41,44,47,50],"grid":true,"labelPadding":6,"titlePadding":5}},
       "y":{"field":"v","type":"quantitative","scale":{"domain":[-60,0],"nice":false,"zero":false},"axis":{"title":"Adjacent Channel Power Ratio (dB)","values":[-60,-55,-50,-45,-40,-35,-30,-25,-20,-15,-10,-5,0],"grid":true,"labelExpr":"datum.value % 10 === 0 ? datum.label : ''","gridColor":{"condition":{"test":"datum.value % 10 === 0","value":"#888888"},"value":"#bbbbbb"},"titlePadding":2}},
       "stroke":{"field":"s","type":"nominal","scale":{"domain":["ACPL","ACPU","Efficiency"],"range":["#a8a8a8","black","black"]},"legend":null},
       "strokeWidth":{"field":"s","type":"nominal","scale":{"type":"ordinal","domain":["ACPL","ACPU","Efficiency"],"range":[2.6,2,2.5]},"legend":null}
      }},
     {"data":{"name":"c4a"},"mark":{"type":"rule","strokeWidth":1},
      "encoding":{
       "x":{"field":"x1","type":"quantitative","scale":{"domain":[32,50],"nice":false,"zero":false},"axis":{"title":"Output Power, Avg. (dBm)","values":[32,35,38,41,44,47,50],"grid":true,"labelPadding":6,"titlePadding":5}},
       "y":{"field":"y1","type":"quantitative","scale":{"domain":[-60,0],"nice":false,"zero":false},"axis":{"title":"Adjacent Channel Power Ratio (dB)","values":[-60,-55,-50,-45,-40,-35,-30,-25,-20,-15,-10,-5,0],"grid":true,"labelExpr":"datum.value % 10 === 0 ? datum.label : ''","gridColor":{"condition":{"test":"datum.value % 10 === 0","value":"#888888"},"value":"#bbbbbb"},"titlePadding":2}},
       "x2":{"field":"x2"},"y2":{"field":"y2"},
       "stroke":{"field":"s","type":"nominal","scale":{"domain":["ACPL","ACPU","Efficiency"],"range":["#a8a8a8","black","black"]},"legend":null}
      }},
     {"data":{"name":"c4a"},"mark":{"type":"text","fontSize":8.5,"color":"black"},
      "encoding":{
       "x":{"field":"tx","type":"quantitative","scale":{"domain":[32,50],"nice":false,"zero":false},"axis":{"title":"Output Power, Avg. (dBm)","values":[32,35,38,41,44,47,50],"grid":true,"labelPadding":6,"titlePadding":5}},
       "y":{"field":"ty","type":"quantitative","scale":{"domain":[-60,0],"nice":false,"zero":false},"axis":{"title":"Adjacent Channel Power Ratio (dB)","values":[-60,-55,-50,-45,-40,-35,-30,-25,-20,-15,-10,-5,0],"grid":true,"labelExpr":"datum.value % 10 === 0 ? datum.label : ''","gridColor":{"condition":{"test":"datum.value % 10 === 0","value":"#888888"},"value":"#bbbbbb"},"titlePadding":2}},
       "text":{"field":"label"}
      }}
    ]},
    {"data":{"name":"c4"},"transform":[{"filter":"datum.s === 'Efficiency'"}],"mark":{"type":"line","interpolate":"monotone","color":"black","strokeWidth":2.5},
     "encoding":{
      "x":{"field":"x","type":"quantitative","scale":{"domain":[32,50],"nice":false,"zero":false},"axis":{"title":"Output Power, Avg. (dBm)","values":[32,35,38,41,44,47,50],"grid":true,"labelPadding":6,"titlePadding":5}},
      "y":{"field":"v","type":"quantitative","scale":{"domain":[0,60],"nice":false,"zero":false},"axis":{"orient":"right","title":"Drain Efficiency (%)","values":[0,10,20,30,40,50,60],"grid":false,"titleAngle":270,"titleBaseline":"top","labelPadding":5}}
     }}
   ],
   "resolve":{"scale":{"y":"independent"}}
  }
 ]}
]},
{
 "width":462.7,"height":60,
 "view":{"stroke":null},
 "layer":[
  {"data":{"values":[{}]},"mark":{"type":"text","text":"Data Sheet","fontSize":8.5,"color":"black","align":"left","baseline":"middle"},"encoding":{"x":{"datum":-0.0925,"type":"quantitative","scale":{"domain":[0,1]},"axis":null},"y":{"datum":0.15,"type":"quantitative","scale":{"domain":[0,1]},"axis":null}}},
  {"data":{"values":[{}]},"mark":{"type":"text","text":"3 of 14","fontSize":8.5,"color":"black","align":"center","baseline":"middle"},"encoding":{"x":{"datum":0.451,"type":"quantitative","scale":{"domain":[0,1]},"axis":null},"y":{"datum":0.15,"type":"quantitative","scale":{"domain":[0,1]},"axis":null}}},
  {"data":{"values":[{}]},"mark":{"type":"text","text":"Rev. 04, 2012-02-23","fontSize":8.5,"color":"black","align":"right","baseline":"middle"},"encoding":{"x":{"datum":1,"type":"quantitative","scale":{"domain":[0,1]},"axis":null},"y":{"datum":0.15,"type":"quantitative","scale":{"domain":[0,1]},"axis":null}}}
 ]
}
]
}
